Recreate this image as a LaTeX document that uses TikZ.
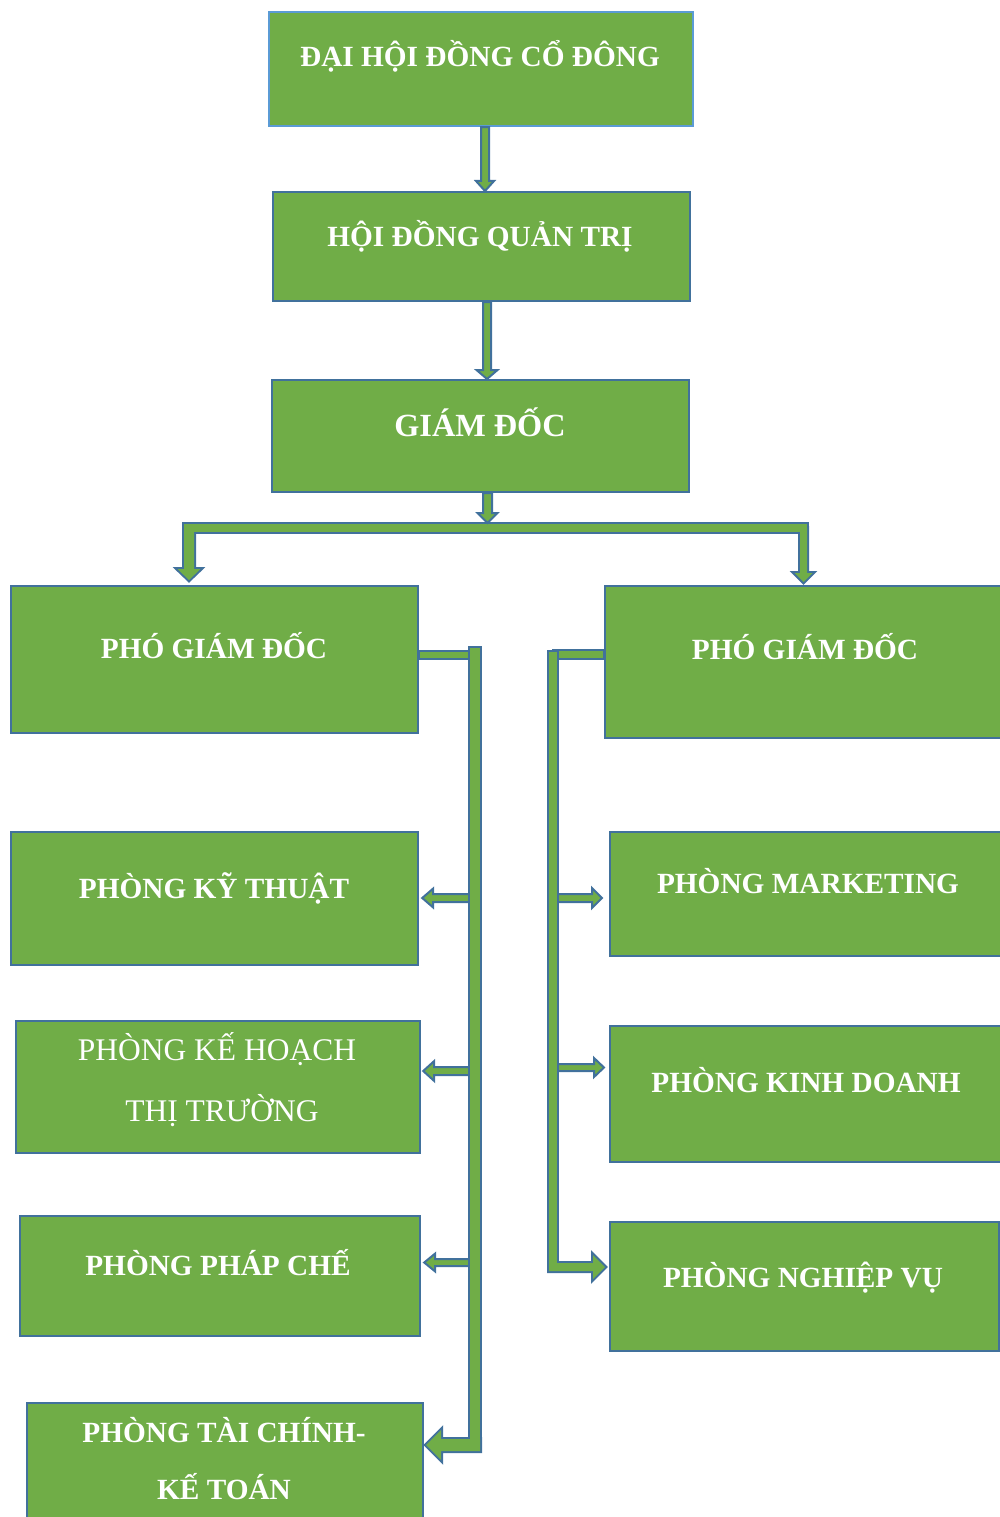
\documentclass[tikz,border=0pt]{standalone}
\usepackage{fontspec}
\setmainfont{Liberation Serif}
\usetikzlibrary{calc}
\definecolor{grn}{HTML}{70AD47}
\definecolor{bdr}{HTML}{41719C}
\definecolor{lbdr}{HTML}{5B9BD5}
\tikzset{
  box/.style={rectangle, fill=grn, draw=bdr, line width=2.2pt, anchor=north west, inner sep=0pt},
  lbl/.style={text=white, font=\fontsize{29.3}{35}\selectfont\bfseries, anchor=base, inner sep=0pt},
  lblr/.style={text=white, font=\fontsize{31.5}{38}\selectfont, anchor=base, inner sep=0pt},
  blk/.style={fill=grn, draw=bdr, line width=2pt},
  outl/.style={draw=bdr, line width=4pt},
  fil/.style={fill=grn},
}
% down block arrow: style, x(px), from, to, shaft half, head half, head length
\newcommand\arrD[7]{%
  \path[#1] let \p1=(#3), \p2=(#4) in
    ({#2pt-#5pt},\y1) -- ({#2pt+#5pt},\y1) -- ({#2pt+#5pt},{\y2+#7pt}) --
    ({#2pt+#6pt},{\y2+#7pt}) -- ({#2pt},\y2) -- ({#2pt-#6pt},{\y2+#7pt}) --
    ({#2pt-#5pt},{\y2+#7pt}) -- cycle;}
% left block arrow: style, y(px), from, to, shaft half, head half, head length
\newcommand\arrL[7]{%
  \path[#1] let \p1=(#3), \p2=(#4) in
    (\x1,{-#2pt+#5pt}) -- (\x1,{-#2pt-#5pt}) -- ({\x2+#7pt},{-#2pt-#5pt}) --
    ({\x2+#7pt},{-#2pt-#6pt}) -- (\x2,{-#2pt}) -- ({\x2+#7pt},{-#2pt+#6pt}) --
    ({\x2+#7pt},{-#2pt+#5pt}) -- cycle;}
% right block arrow
\newcommand\arrR[7]{%
  \path[#1] let \p1=(#3), \p2=(#4) in
    (\x1,{-#2pt+#5pt}) -- (\x1,{-#2pt-#5pt}) -- ({\x2-#7pt},{-#2pt-#5pt}) --
    ({\x2-#7pt},{-#2pt-#6pt}) -- (\x2,{-#2pt}) -- ({\x2-#7pt},{-#2pt+#6pt}) --
    ({\x2-#7pt},{-#2pt+#5pt}) -- cycle;}
% horizontal segment: style, from, to, y1, y2 (px)
\newcommand\hseg[5]{%
  \path[#1] let \p1=(#2), \p2=(#3) in (\x1,{-#4pt}) rectangle (\x2,{-#5pt});}
\begin{document}
\begin{tikzpicture}[x=1pt,y=-1pt]
\useasboundingbox (0,0) rectangle (1000,1517);
% boxes
\node[box, draw=lbdr, minimum width=424pt, minimum height=114pt] (b1) at (268,11) {};
\node[box, minimum width=417pt, minimum height=109pt] (b2) at (272,191) {};
\node[box, minimum width=417pt, minimum height=112pt] (b3) at (271,379) {};
\node[box, minimum width=407pt, minimum height=147pt] (b4) at (10,585) {};
\node[box, minimum width=402pt, minimum height=152pt] (b5) at (604,585) {};
\node[box, minimum width=407pt, minimum height=133pt] (b6) at (10,831) {};
\node[box, minimum width=404pt, minimum height=132pt] (b7) at (15,1020) {};
\node[box, minimum width=400pt, minimum height=120pt] (b8) at (19,1215) {};
\node[box, minimum width=396pt, minimum height=125pt] (b9) at (26,1402) {};
\node[box, minimum width=397pt, minimum height=124pt] (b10) at (609,831) {};
\node[box, minimum width=397pt, minimum height=136pt] (b11) at (609,1025) {};
\node[box, minimum width=389pt, minimum height=129pt] (b12) at (609,1221) {};
% labels
\node[lbl] (t1) at (480,67) {ĐẠI HỘI ĐỒNG CỔ ĐÔNG};
\node[lbl] (t2) at (480,246) {HỘI ĐỒNG QUẢN TRỊ};
\node[lbl, font=\fontsize{32.3}{38}\selectfont\bfseries] (t3) at (480,436) {GIÁM ĐỐC};
\node[lbl] (t4) at (214,658) {PHÓ GIÁM ĐỐC};
\node[lbl] (t5) at (805,659) {PHÓ GIÁM ĐỐC};
\node[lbl] (t6) at (214,898) {PHÒNG KỸ THUẬT};
\node[lblr] (t7a) at (217,1060) {PHÒNG KẾ HOẠCH};
\node[lblr] (t7b) at (222,1121) {THỊ TRƯỜNG};
\node[lbl] (t8) at (218,1275) {PHÒNG PHÁP CHẾ};
\node[lbl] (t9a) at (224,1442) {PHÒNG TÀI CHÍNH-};
\node[lbl] (t9b) at (224,1499) {KẾ TOÁN};
\node[lbl] (t10) at (808,893) {PHÒNG MARKETING};
\node[lbl] (t11) at (806,1092) {PHÒNG KINH DOANH};
\node[lbl] (t12) at (803,1287) {PHÒNG NGHIỆP VỤ};
% coordinates for free ends
\coordinate (bar) at (487.5,523);
\coordinate (barL) at (189,528);
\coordinate (barR) at (803.5,528);
\coordinate (lt1) at (475,648);
\coordinate (lt2) at (475,1451);
\coordinate (rt1) at (553,652);
\coordinate (rt2) at (553,1271);
% top arrows
\arrD{blk}{485}{b1.south}{b2.north}{4}{9}{10}
\arrD{blk}{487}{b2.south}{b3.north}{4}{10.5}{9}
% bar with drops (merged outline)
\foreach \st in {outl,fil}{
  \path[\st] (184,524) rectangle (807,532);
  \arrD{\st}{189}{barL}{$(b4.north)+(0,-5)$}{5}{11.5}{11}
  \arrD{\st}{803.5}{barR}{$(b5.north)+(0,-3)$}{3.5}{9}{9}
}
\arrD{blk}{487.5}{b3.south}{bar}{4.5}{10}{10}
% left side
\arrL{blk}{898}{lt1}{$(b6.east)+(3,0)$}{4}{9.5}{11}
\arrL{blk}{1071}{lt1}{$(b7.east)+(2,0)$}{4}{10}{11}
\arrL{blk}{1262.5}{lt1}{$(b8.east)+(3,0)$}{3.5}{9}{11}
\hseg{blk}{b4.east}{lt1}{651}{659}
\foreach \st in {outl,fil}{
  \path[\st] ($(lt1)+(-5,0)$) rectangle ($(lt2)+(5,0)$);
  \arrL{\st}{1445}{$(lt2)+(5,0)$}{$(b9.east)+(2,0)$}{6}{15}{15}
}
% right side
\hseg{blk}{rt1}{b5.west}{650}{659}
\arrR{blk}{898}{rt1}{$(b10.west)+(-7,0)$}{4}{10}{10}
\arrR{blk}{1067.5}{rt1}{$(b11.west)+(-5,0)$}{3.5}{9.5}{10}
\foreach \st in {outl,fil}{
  \path[\st] ($(rt1)+(-4,0)$) rectangle ($(rt2)+(4,0)$);
  \arrR{\st}{1267}{$(rt2)+(-4,0)$}{$(b12.west)+(-4,0)$}{4}{12}{12}
}
\end{tikzpicture}
\end{document}
